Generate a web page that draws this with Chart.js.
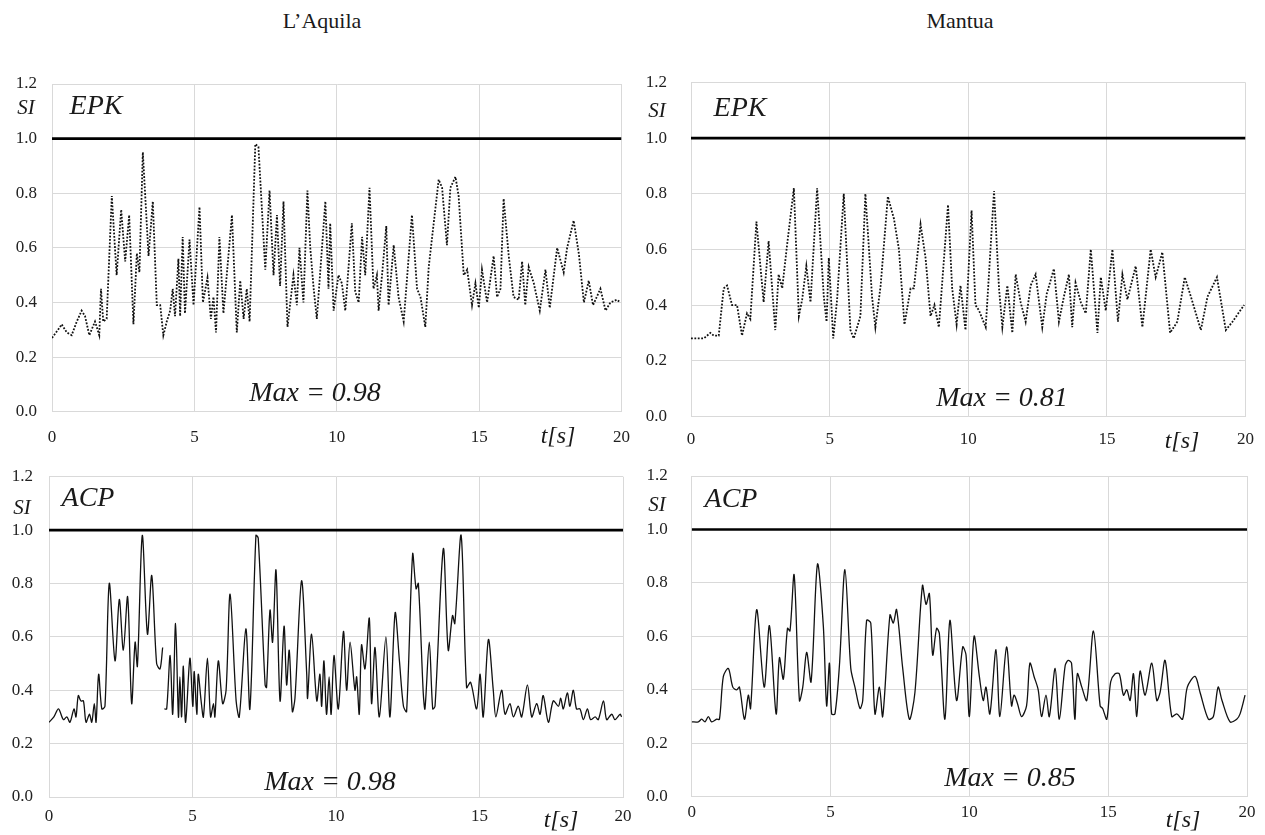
<!DOCTYPE html>
<html>
<head>
<meta charset="utf-8">
<script src="https://cdn.jsdelivr.net/npm/chart.js@4.4.1/dist/chart.umd.min.js"></script>
<style>
  html, body { margin:0; padding:0; background:#fff; }
  body { width:1265px; height:835px; overflow:hidden; position:relative; font-family:"Liberation Serif","Times New Roman",serif; color:#111; }
  .box { position:absolute; }
  .txt { position:absolute; white-space:nowrap; line-height:1; transform:translate(-50%,-50%); color:#1a1a1a; }
  .it { font-style:italic; }
</style>
</head>
<body>

<div class="box" style="left:0px;top:60px;width:640px;height:400px"><canvas id="c1" width="640" height="400"></canvas></div>
<div class="box" style="left:640px;top:60px;width:625px;height:400px"><canvas id="c2" width="625" height="400"></canvas></div>
<div class="box" style="left:0px;top:455px;width:640px;height:380px"><canvas id="c3" width="640" height="380"></canvas></div>
<div class="box" style="left:640px;top:455px;width:625px;height:380px"><canvas id="c4" width="625" height="380"></canvas></div>

<div class="txt" style="left:322px;top:21px;font-size:22px">L’Aquila</div>
<div class="txt" style="left:960px;top:21px;font-size:22px">Mantua</div>

<div class="txt it" style="left:26px;top:107px;font-size:21px">SI</div>
<div class="txt it" style="left:657px;top:110px;font-size:21px">SI</div>
<div class="txt it" style="left:22px;top:507px;font-size:21px">SI</div>
<div class="txt it" style="left:657px;top:504px;font-size:21px">SI</div>

<div class="txt it" style="left:96px;top:105px;font-size:28px">EPK</div>
<div class="txt it" style="left:740px;top:107px;font-size:28px">EPK</div>
<div class="txt it" style="left:88px;top:497px;font-size:28px">ACP</div>
<div class="txt it" style="left:731px;top:498px;font-size:28px">ACP</div>

<div class="txt it" style="left:315px;top:392px;font-size:28px">Max = 0.98</div>
<div class="txt it" style="left:1002px;top:397px;font-size:28px">Max = 0.81</div>
<div class="txt it" style="left:330px;top:781px;font-size:28px">Max = 0.98</div>
<div class="txt it" style="left:1010px;top:777px;font-size:28px">Max = 0.85</div>

<div class="txt it" style="left:558px;top:435px;font-size:24px">t[s]</div>
<div class="txt it" style="left:1182px;top:440px;font-size:24px">t[s]</div>
<div class="txt it" style="left:561px;top:819px;font-size:24px">t[s]</div>
<div class="txt it" style="left:1183px;top:819px;font-size:24px">t[s]</div>

<script>
// ---------------- DATA (time [s], safety index SI) ----------------
const xTicks = [0, 5, 10, 15, 20];
const yTicks = [0.0, 0.2, 0.4, 0.6, 0.8, 1.0, 1.2];
const thresholdT = [0, 20];
const thresholdV = [1.0, 1.0];

// EPK – L'Aquila (dotted)
const epkAquila = [[0,0.27],[0.28,0.31],[0.34,0.32],[0.52,0.29],[0.69,0.28],[0.87,0.33],[1.04,0.37],[1.16,0.35],[1.31,0.28],[1.51,0.33],[1.66,0.28],[1.72,0.45],[1.80,0.33],[1.92,0.34],[2.10,0.79],[2.27,0.50],[2.43,0.74],[2.57,0.55],[2.71,0.72],[2.86,0.32],[2.98,0.58],[3.07,0.51],[3.19,0.95],[3.39,0.57],[3.54,0.77],[3.68,0.39],[3.80,0.39],[3.91,0.28],[4.03,0.33],[4.15,0.37],[4.24,0.45],[4.32,0.35],[4.44,0.56],[4.50,0.35],[4.59,0.64],[4.67,0.36],[4.83,0.63],[4.97,0.39],[5.18,0.75],[5.30,0.40],[5.46,0.49],[5.58,0.34],[5.67,0.42],[5.76,0.29],[5.88,0.64],[6.02,0.36],[6.32,0.72],[6.49,0.29],[6.61,0.48],[6.73,0.34],[6.84,0.45],[6.94,0.33],[7.14,0.98],[7.25,0.97],[7.49,0.52],[7.64,0.81],[7.78,0.50],[7.90,0.72],[8.01,0.46],[8.13,0.77],[8.27,0.31],[8.48,0.50],[8.60,0.39],[8.69,0.60],[8.83,0.40],[8.97,0.81],[9.07,0.60],[9.19,0.45],[9.30,0.34],[9.60,0.77],[9.71,0.45],[9.77,0.69],[9.89,0.37],[10.06,0.50],[10.18,0.47],[10.30,0.37],[10.53,0.69],[10.65,0.44],[10.77,0.40],[10.89,0.64],[11.00,0.50],[11.15,0.82],[11.29,0.45],[11.41,0.50],[11.47,0.37],[11.59,0.50],[11.74,0.68],[11.82,0.39],[12.00,0.61],[12.17,0.42],[12.35,0.33],[12.64,0.72],[12.82,0.45],[12.94,0.42],[13.11,0.31],[13.23,0.53],[13.58,0.85],[13.70,0.82],[13.87,0.61],[13.99,0.82],[14.17,0.86],[14.28,0.79],[14.46,0.50],[14.58,0.52],[14.75,0.39],[14.87,0.47],[14.99,0.38],[15.10,0.52],[15.28,0.40],[15.51,0.57],[15.63,0.42],[15.75,0.45],[15.86,0.78],[16.04,0.57],[16.21,0.42],[16.39,0.41],[16.51,0.55],[16.62,0.39],[16.74,0.53],[16.92,0.47],[17.13,0.37],[17.33,0.52],[17.48,0.38],[17.74,0.60],[17.97,0.51],[18.09,0.60],[18.32,0.70],[18.50,0.58],[18.68,0.40],[18.85,0.48],[19.00,0.39],[19.26,0.45],[19.44,0.37],[19.61,0.40],[19.84,0.41],[19.96,0.40]];

// EPK – Mantua (dotted)
const epkMantua = [[0,0.28],[0.46,0.28],[0.70,0.30],[0.82,0.29],[1.00,0.29],[1.18,0.46],[1.30,0.47],[1.48,0.40],[1.66,0.40],[1.84,0.29],[2.02,0.37],[2.14,0.35],[2.36,0.70],[2.62,0.41],[2.80,0.63],[3.04,0.31],[3.16,0.51],[3.29,0.46],[3.47,0.62],[3.71,0.82],[3.89,0.36],[4.01,0.42],[4.16,0.54],[4.31,0.41],[4.55,0.82],[4.79,0.43],[4.89,0.34],[4.97,0.57],[5.13,0.28],[5.27,0.42],[5.51,0.80],[5.75,0.31],[5.87,0.28],[6.11,0.36],[6.29,0.80],[6.53,0.43],[6.65,0.32],[6.84,0.47],[7.10,0.79],[7.32,0.71],[7.50,0.60],[7.70,0.33],[7.92,0.46],[8.04,0.46],[8.28,0.69],[8.46,0.57],[8.64,0.36],[8.78,0.40],[8.94,0.32],[9.27,0.76],[9.42,0.46],[9.58,0.33],[9.72,0.47],[9.90,0.31],[10.12,0.74],[10.26,0.40],[10.39,0.38],[10.63,0.32],[10.93,0.81],[11.11,0.46],[11.23,0.32],[11.41,0.47],[11.59,0.30],[11.71,0.51],[11.89,0.41],[12.07,0.34],[12.25,0.47],[12.43,0.51],[12.67,0.32],[12.83,0.44],[13.09,0.53],[13.27,0.34],[13.45,0.43],[13.63,0.51],[13.75,0.32],[13.87,0.48],[14.06,0.41],[14.24,0.37],[14.42,0.60],[14.66,0.30],[14.78,0.50],[14.96,0.38],[15.20,0.60],[15.40,0.34],[15.56,0.51],[15.74,0.42],[16.04,0.54],[16.28,0.32],[16.58,0.60],[16.76,0.50],[17.00,0.59],[17.28,0.30],[17.54,0.34],[17.81,0.50],[18.03,0.43],[18.39,0.31],[18.63,0.43],[18.97,0.50],[19.29,0.31],[19.53,0.34],[19.95,0.40]];

// ACP – L'Aquila (solid)
const acpAquila = [[0,0.28],[0.17,0.30],[0.33,0.33],[0.50,0.29],[0.62,0.30],[0.73,0.28],[0.87,0.33],[0.94,0.30],[1.02,0.38],[1.11,0.36],[1.20,0.36],[1.29,0.28],[1.41,0.31],[1.49,0.28],[1.58,0.35],[1.64,0.28],[1.73,0.46],[1.84,0.33],[1.95,0.34],[2.10,0.80],[2.30,0.51],[2.45,0.74],[2.59,0.55],[2.74,0.75],[2.88,0.35],[3.00,0.58],[3.08,0.49],[3.25,0.98],[3.43,0.61],[3.58,0.83],[3.75,0.50],[3.87,0.48],[3.96,0.56],[3.99,null],[4.02,0.33],[4.10,0.33],[4.22,0.53],[4.31,0.31],[4.41,0.65],[4.51,0.30],[4.56,0.45],[4.62,0.30],[4.68,0.49],[4.76,0.28],[4.91,0.52],[5.01,0.34],[5.06,0.47],[5.15,0.31],[5.20,0.46],[5.30,0.36],[5.38,0.30],[5.52,0.52],[5.63,0.30],[5.73,0.35],[5.78,0.30],[5.90,0.51],[6.05,0.35],[6.17,0.40],[6.31,0.76],[6.52,0.36],[6.63,0.30],[6.86,0.63],[7.00,0.33],[7.21,0.98],[7.29,0.97],[7.53,0.42],[7.58,0.41],[7.70,0.70],[7.79,0.58],[7.91,0.85],[8.05,0.36],[8.19,0.64],[8.28,0.42],[8.37,0.55],[8.48,0.32],[8.57,0.37],[8.80,0.81],[8.98,0.46],[9.01,0.37],[9.15,0.61],[9.33,0.36],[9.44,0.46],[9.50,0.34],[9.58,0.51],[9.67,0.31],[9.76,0.45],[9.83,0.31],[9.93,0.53],[10.08,0.33],[10.26,0.62],[10.37,0.40],[10.49,0.58],[10.66,0.40],[10.72,0.45],[10.81,0.31],[10.89,0.57],[11.01,0.48],[11.16,0.67],[11.24,0.35],[11.36,0.56],[11.51,0.30],[11.74,0.60],[11.88,0.30],[12.06,0.69],[12.21,0.51],[12.35,0.34],[12.46,0.32],[12.67,0.91],[12.79,0.78],[12.87,0.80],[13.04,0.39],[13.10,0.33],[13.25,0.58],[13.37,0.33],[13.45,0.34],[13.74,0.93],[13.91,0.55],[14.06,0.68],[14.14,0.65],[14.36,0.98],[14.55,0.41],[14.69,0.43],[14.90,0.33],[15.02,0.46],[15.13,0.30],[15.31,0.59],[15.48,0.40],[15.57,0.30],[15.77,0.40],[15.89,0.31],[16.06,0.35],[16.18,0.30],[16.35,0.34],[16.47,0.30],[16.67,0.42],[16.82,0.30],[16.99,0.35],[17.11,0.31],[17.22,0.38],[17.40,0.28],[17.57,0.36],[17.75,0.34],[17.83,0.37],[17.92,0.33],[18.06,0.39],[18.15,0.34],[18.27,0.40],[18.38,0.33],[18.50,0.33],[18.62,0.29],[18.76,0.33],[18.87,0.29],[19.03,0.30],[19.14,0.29],[19.32,0.36],[19.43,0.29],[19.61,0.31],[19.72,0.29],[19.90,0.31],[19.95,0.30]];

// ACP – Mantua (solid)
const acpMantua = [[0,0.28],[0.24,0.28],[0.36,0.29],[0.48,0.28],[0.60,0.30],[0.72,0.28],[0.90,0.29],[1.00,0.29],[1.14,0.45],[1.32,0.48],[1.48,0.41],[1.62,0.40],[1.72,0.41],[1.90,0.29],[2.04,0.38],[2.12,0.33],[2.34,0.70],[2.61,0.41],[2.80,0.64],[3.04,0.31],[3.16,0.52],[3.30,0.44],[3.45,0.63],[3.54,0.62],[3.69,0.83],[3.88,0.36],[4.00,0.41],[4.14,0.54],[4.30,0.43],[4.53,0.87],[4.74,0.64],[4.86,0.34],[4.96,0.50],[5.04,0.31],[5.16,0.31],[5.32,0.49],[5.52,0.85],[5.73,0.48],[5.88,0.41],[6.06,0.33],[6.16,0.36],[6.30,0.66],[6.45,0.65],[6.60,0.31],[6.76,0.41],[6.88,0.30],[7.14,0.68],[7.26,0.65],[7.38,0.70],[7.60,0.48],[7.84,0.29],[8.04,0.39],[8.31,0.79],[8.44,0.72],[8.56,0.76],[8.68,0.53],[8.82,0.63],[8.92,0.61],[9.12,0.29],[9.30,0.66],[9.54,0.36],[9.76,0.56],[9.88,0.53],[10.00,0.30],[10.17,0.60],[10.36,0.45],[10.50,0.36],[10.60,0.41],[10.74,0.31],[10.96,0.55],[11.10,0.30],[11.34,0.56],[11.52,0.34],[11.61,0.38],[11.73,0.35],[11.88,0.30],[12.06,0.34],[12.18,0.50],[12.33,0.45],[12.48,0.40],[12.60,0.30],[12.76,0.38],[12.88,0.30],[13.09,0.48],[13.24,0.29],[13.45,0.49],[13.56,0.51],[13.68,0.50],[13.80,0.29],[13.89,0.46],[14.05,0.41],[14.23,0.36],[14.47,0.62],[14.71,0.34],[14.80,0.33],[14.95,0.29],[15.09,0.43],[15.25,0.46],[15.40,0.46],[15.55,0.38],[15.67,0.40],[15.79,0.36],[15.91,0.46],[16.03,0.30],[16.15,0.47],[16.33,0.38],[16.57,0.50],[16.75,0.36],[16.87,0.39],[17.05,0.51],[17.29,0.30],[17.47,0.31],[17.68,0.29],[17.85,0.41],[18.13,0.45],[18.31,0.39],[18.61,0.29],[18.79,0.30],[18.96,0.41],[19.10,0.36],[19.39,0.28],[19.63,0.29],[19.75,0.31],[19.93,0.38]];

// ---------------- LAYOUT (page pixels) ----------------
const panels = [
  { id:'c1', box:[0,60,640,400],    area:[52,84,621.5,411.7],     series:epkAquila, dotted:true,  yGap:15, xGap:16 },
  { id:'c2', box:[640,60,625,400],  area:[691,82.5,1245.5,416.3], series:epkMantua, dotted:true,  yGap:24, xGap:13 },
  { id:'c3', box:[0,455,640,380],   area:[49,476.7,623,797],      series:acpAquila, dotted:false, yGap:16, xGap:9 },
  { id:'c4', box:[640,455,625,380], area:[691.7,476,1247,796.7],  series:acpMantua, dotted:false, yGap:24, xGap:6 }
];

Chart.defaults.font.family = "'Liberation Serif','Times New Roman',serif";
Chart.defaults.font.size = 17;
Chart.defaults.color = '#222';

const gridColor = '#d9d9d9';
const noTick = 'rgba(0,0,0,0)';

panels.forEach(p => {
  const [bx, by, bw, bh] = p.box;
  const [al, at, ar, ab] = p.area;
  const padB = 4;
  const yW = al - bx;
  const padR = (bx + bw) - ar;
  const padT = at - by;
  const xH = (by + bh) - ab - padB;

  const seriesData = p.series.map(([t, v]) => ({ x: t, y: v }));
  const thrData = thresholdT.map((t, i) => ({ x: t, y: thresholdV[i] }));

  new Chart(document.getElementById(p.id), {
    type: 'line',
    data: {
      datasets: [
        {
          data: seriesData,
          borderColor: '#111',
          borderWidth: p.dotted ? 1.8 : 1.3,
          borderDash: p.dotted ? [1.8, 1.6] : [],
          pointRadius: 0,
          tension: p.dotted ? 0 : 0.3,
          spanGaps: false,
          fill: false
        },
        {
          data: thrData,
          borderColor: '#000',
          borderWidth: 2.6,
          pointRadius: 0,
          fill: false
        }
      ]
    },
    options: {
      responsive: false,
      animation: false,
      devicePixelRatio: 1,
      layout: { padding: { left: 0, right: padR, top: padT, bottom: padB } },
      plugins: { legend: { display: false }, tooltip: { enabled: false } },
      scales: {
        x: {
          type: 'linear',
          min: xTicks[0], max: xTicks[xTicks.length - 1],
          afterBuildTicks: s => { s.ticks = xTicks.map(v => ({ value: v })); },
          afterFit: s => { s.height = xH; },
          ticks: { padding: 0, autoSkip: false, maxRotation: 0, callback: v => String(v) },
          grid: { color: gridColor, lineWidth: 1, drawTicks: true, tickLength: p.xGap, tickColor: noTick },
          border: { color: gridColor, width: 1 }
        },
        y: {
          type: 'linear',
          min: yTicks[0], max: yTicks[yTicks.length - 1],
          afterBuildTicks: s => { s.ticks = yTicks.map(v => ({ value: v })); },
          afterFit: s => { s.width = yW; },
          ticks: { padding: 0, autoSkip: false, crossAlign: 'near', callback: v => Number(v).toFixed(1) },
          grid: { color: gridColor, lineWidth: 1, drawTicks: true, tickLength: p.yGap, tickColor: noTick },
          border: { color: gridColor, width: 1 }
        }
      }
    }
  });
});
</script>
</body>
</html>
